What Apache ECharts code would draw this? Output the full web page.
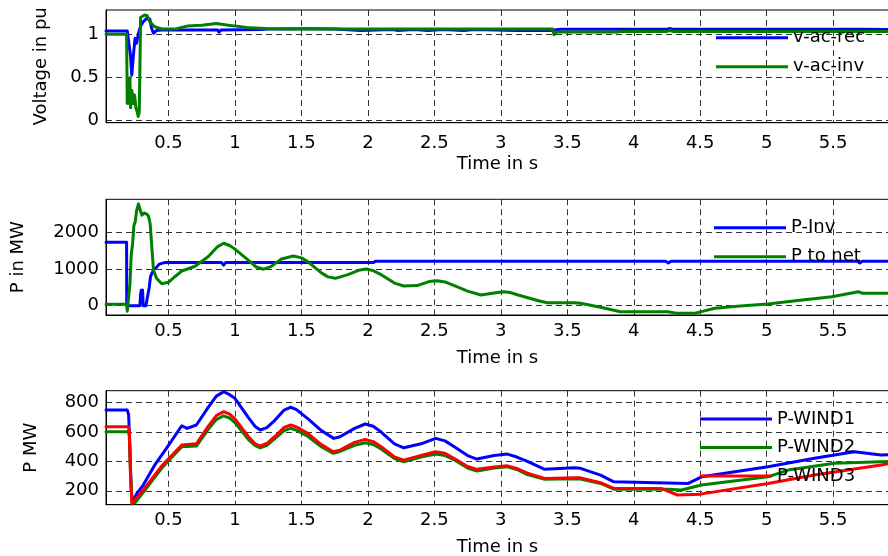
<!DOCTYPE html>
<html>
<head>
<meta charset="utf-8">
<script src="https://cdn.jsdelivr.net/npm/echarts@6/dist/echarts.min.js"></script>
<style>
html,body{margin:0;padding:0;background:#fff;}
#chart{width:888px;height:556px;}
</style>
</head>
<body>
<div id="chart"></div>
<script>
// ---------- data ----------
const xTicks = [0.5, 1, 1.5, 2, 2.5, 3, 3.5, 4, 4.5, 5, 5.5];
const vTicks = [0, 0.5, 1];
const pTicks = [0, 1000, 2000];
const wTicks = [200, 400, 600, 800];

const seriesNames = ['v-ac-rec', 'v-ac-inv', 'P-Inv', 'P to net', 'P-WIND1', 'P-WIND2', 'P-WIND3'];

const vAcRec = [[0.03,1.043],[0.19,1.043],[0.205,1.03],[0.215,0.75],[0.224,0.53],[0.236,0.76],[0.249,0.96],[0.26,0.9],[0.275,1.02],[0.29,1.1],[0.31,1.15],[0.336,1.19],[0.35,1.21],[0.36,1.18],[0.372,1.08],[0.387,1.016],[0.41,1.05],[0.45,1.055],[0.87,1.055],[0.88,1.03],[0.895,1.055],[1.2,1.06],[1.25,1.066],[1.55,1.07],[1.75,1.066],[1.95,1.05],[2.18,1.06],[2.22,1.05],[2.35,1.06],[2.45,1.05],[2.57,1.06],[2.72,1.05],[2.8,1.06],[3.12,1.05],[3.37,1.05],[3.45,1.062],[4.25,1.062],[4.27,1.072],[4.3,1.062],[5.7,1.062],[5.92,1.06]];
const vAcInv = [[0.03,1.005],[0.185,1.005],[0.19,0.2],[0.2,0.45],[0.205,0.2],[0.21,0.5],[0.215,0.15],[0.225,0.35],[0.235,0.2],[0.245,0.3],[0.255,0.15],[0.265,0.1],[0.272,0.05],[0.28,0.1],[0.285,0.6],[0.29,1.2],[0.3,1.22],[0.32,1.23],[0.34,1.22],[0.36,1.15],[0.39,1.1],[0.42,1.08],[0.45,1.066],[0.56,1.07],[0.64,1.1],[0.75,1.11],[0.86,1.13],[0.95,1.11],[1.09,1.085],[1.25,1.07],[1.39,1.066],[2.0,1.066],[3.0,1.066],[3.39,1.066],[3.4,1.0],[3.42,1.03],[3.88,1.03],[3.9,1.038],[4.25,1.038],[4.27,1.048],[4.3,1.038],[5.92,1.038]];

const pInv = [[0.03,1740],[0.185,1740],[0.186,0],[0.285,0],[0.29,300],[0.295,420],[0.3,200],[0.305,430],[0.31,0],[0.33,0],[0.345,50],[0.355,500],[0.365,800],[0.38,850],[0.39,1000],[0.41,1050],[0.43,1140],[0.47,1180],[0.9,1180],[0.915,1110],[0.93,1180],[2.04,1180],[2.06,1220],[4.24,1220],[4.26,1170],[4.28,1220],[5.68,1220],[5.7,1170],[5.72,1220],[5.92,1220]];
const pToNet = [[0.03,40],[0.185,40],[0.19,-150],[0.2,-160],[0.21,600],[0.22,1400],[0.23,1700],[0.24,2200],[0.25,2300],[0.26,2600],[0.274,2790],[0.285,2650],[0.3,2480],[0.315,2540],[0.337,2510],[0.35,2450],[0.362,2250],[0.375,1600],[0.387,980],[0.41,750],[0.45,600],[0.5,640],[0.55,800],[0.6,950],[0.7,1080],[0.8,1350],[0.87,1620],[0.915,1710],[0.96,1650],[1.0,1550],[1.1,1250],[1.16,1060],[1.216,1000],[1.27,1070],[1.35,1280],[1.44,1360],[1.5,1310],[1.55,1200],[1.65,900],[1.7,790],[1.756,750],[1.85,850],[1.94,980],[1.99,1005],[2.04,960],[2.1,850],[2.2,620],[2.27,540],[2.37,550],[2.46,660],[2.52,685],[2.58,650],[2.65,550],[2.75,400],[2.85,293],[2.95,350],[3.02,384],[3.07,360],[3.13,293],[3.29,130],[3.35,82],[3.55,82],[3.6,66],[3.75,-44],[3.9,-164],[4.255,-164],[4.33,-210],[4.456,-210],[4.61,-71],[4.8,-10],[5.01,47],[5.2,130],[5.49,247],[5.69,384],[5.72,340],[5.92,340]];

const pWind1 = [[0.03,750],[0.19,750],[0.2,720],[0.21,500],[0.22,200],[0.228,125],[0.24,140],[0.262,182],[0.31,239],[0.4,380],[0.5,510],[0.6,643],[0.64,625],[0.71,648],[0.8,770],[0.86,845],[0.915,875],[0.96,855],[1.0,830],[1.1,700],[1.15,640],[1.19,614],[1.24,630],[1.3,680],[1.37,750],[1.417,769],[1.46,755],[1.55,690],[1.65,610],[1.743,557],[1.79,568],[1.9,625],[1.98,655],[2.04,640],[2.1,600],[2.2,520],[2.27,493],[2.4,520],[2.51,557],[2.58,540],[2.65,500],[2.75,440],[2.82,416],[2.95,440],[3.05,450],[3.12,430],[3.2,400],[3.33,346],[3.55,357],[3.6,353],[3.75,307],[3.85,261],[4.41,250],[4.51,295],[5.01,364],[5.36,421],[5.66,466],[5.86,443],[5.92,445]];
const pWind2 = [[0.03,602],[0.2,602],[0.205,580],[0.215,300],[0.228,110],[0.25,120],[0.31,190],[0.45,355],[0.6,500],[0.71,505],[0.8,620],[0.86,685],[0.915,711],[0.96,695],[1.0,665],[1.1,550],[1.15,510],[1.19,493],[1.24,510],[1.3,555],[1.37,610],[1.42,625],[1.47,610],[1.55,570],[1.65,500],[1.74,455],[1.79,468],[1.9,510],[1.98,527],[2.04,515],[2.1,485],[2.2,420],[2.27,398],[2.4,430],[2.51,450],[2.58,440],[2.65,410],[2.75,355],[2.82,334],[2.95,355],[3.05,364],[3.12,345],[3.2,310],[3.33,278],[3.55,282],[3.6,280],[3.75,250],[3.85,211],[4.26,211],[4.36,205],[4.51,239],[5.01,295],[5.16,341],[5.51,387],[5.86,398],[5.92,400]];
const pWind3 = [[0.03,636],[0.2,636],[0.205,600],[0.215,300],[0.225,114],[0.24,120],[0.31,205],[0.45,370],[0.6,512],[0.71,520],[0.8,640],[0.86,712],[0.915,739],[0.96,722],[1.0,690],[1.1,570],[1.15,522],[1.19,505],[1.24,522],[1.3,570],[1.37,632],[1.42,648],[1.47,632],[1.55,590],[1.65,515],[1.74,466],[1.79,477],[1.9,530],[1.98,550],[2.04,535],[2.1,500],[2.2,430],[2.27,409],[2.4,440],[2.51,466],[2.58,455],[2.65,420],[2.75,365],[2.82,346],[2.95,362],[3.05,370],[3.12,352],[3.2,320],[3.33,284],[3.55,289],[3.6,288],[3.75,255],[3.85,216],[4.205,216],[4.33,171],[4.5,177],[5.01,250],[5.36,307],[5.86,375],[5.92,385]];

// ---------- chart ----------
const FONT = 'DejaVu Sans';
const BLUE = '#0000ff', GREEN = '#008000', RED = '#ff0000';
const gridDash = {show: true, lineStyle: {color: '#333', width: 1, type: [6, 4]}};

function xAx(gridIndex, labelMargin, nameGap) {
  return {
    type: 'value', gridIndex, min: 0.03, max: 5.92,
    name: 'Time in s', nameLocation: 'middle', nameGap,
    nameTextStyle: {fontFamily: FONT, fontSize: 18, color: '#000'},
    axisLine: {show: true, onZero: false, lineStyle: {color: '#000', width: 1}},
    axisTick: {show: false, customValues: xTicks},
    axisLabel: {customValues: xTicks, fontFamily: FONT, fontSize: 18, color: '#000', margin: labelMargin},
    splitLine: gridDash
  };
}
function yAx(gridIndex, min, max, ticks, name, nameGap) {
  return {
    type: 'value', gridIndex, min, max,
    name, nameLocation: 'middle', nameGap, nameRotate: 90,
    nameTextStyle: {fontFamily: FONT, fontSize: 18, color: '#000'},
    axisLine: {show: true, lineStyle: {color: '#000', width: 1}},
    axisTick: {show: false, customValues: ticks},
    axisLabel: {customValues: ticks, fontFamily: FONT, fontSize: 18, color: '#000', margin: 7,
      formatter: v => String(v)},
    splitLine: gridDash
  };
}
function line(name, data, color, xi) {
  return {
    name, type: 'line', data, xAxisIndex: xi, yAxisIndex: xi,
    showSymbol: false, symbol: 'none', animation: false,
    lineStyle: {color, width: 3, join: 'round', cap: 'round'}, itemStyle: {color},
    emphasis: {disabled: true}
  };
}
function legend(names, left, top, gap) {
  return {
    data: names, left, top, orient: 'vertical', itemGap: gap,
    icon: 'rect', itemWidth: 72, itemHeight: 3, selectedMode: false,
    textStyle: {fontFamily: FONT, fontSize: 18, color: '#000'}
  };
}

const gridBase = {left: 106, width: 783, show: true, borderColor: '#000', borderWidth: 1, backgroundColor: 'transparent', outerBoundsMode: 'none', containLabel: false};

const option = {
  backgroundColor: '#fff',
  animation: false,
  textStyle: {fontFamily: FONT},
  grid: [
    Object.assign({top: 10, height: 112.7}, gridBase),
    Object.assign({top: 199.3, height: 115.7}, gridBase),
    Object.assign({top: 390.7, height: 114}, gridBase)
  ],
  xAxis: [xAx(0, 12, 33), xAx(1, 7, 34), xAx(2, 7, 34)],
  yAxis: [
    yAx(0, -0.023, 1.287, vTicks, 'Voltage in pu', 56),
    yAx(1, -255, 2915, pTicks, 'P in MW', 79),
    yAx(2, 105, 882, wTicks, 'P MW', 66)
  ],
  legend: [
    legend([seriesNames[0], seriesNames[1]], 711, 23.7, 11),
    legend([seriesNames[2], seriesNames[3]], 709, 213.7, 11),
    legend([seriesNames[4], seriesNames[5], seriesNames[6]], 695, 405, 10.5)
  ],
  series: [
    line(seriesNames[0], vAcRec, BLUE, 0),
    line(seriesNames[1], vAcInv, GREEN, 0),
    line(seriesNames[2], pInv, BLUE, 1),
    line(seriesNames[3], pToNet, GREEN, 1),
    line(seriesNames[4], pWind1, BLUE, 2),
    line(seriesNames[5], pWind2, GREEN, 2),
    line(seriesNames[6], pWind3, RED, 2)
  ]
};

const chart = echarts.init(document.getElementById('chart'), null, {renderer: 'canvas'});
chart.setOption(option);
</script>
</body>
</html>
